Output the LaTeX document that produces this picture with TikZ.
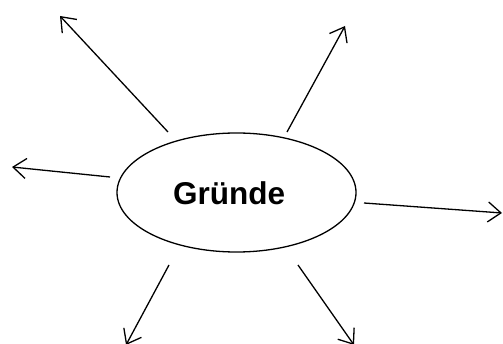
\documentclass[tikz,border=0pt]{standalone}
\usepackage{fontspec}
\setmainfont{Liberation Sans}
\usetikzlibrary{arrows.meta,shapes.geometric}
\begin{document}
\begin{tikzpicture}[x=1pt,y=-1pt,
  ray/.style={line width=1.3pt,-{Straight Barb[length=13pt,width=20pt,line width=1.3pt]}},
  hub/.style={draw,ellipse,line width=1.3pt,minimum width=239pt,minimum height=119pt,inner sep=0pt}]
\useasboundingbox (0,0) rectangle (503,344);
\node[hub] (g) at (236.5,192.5) {};
\node[font=\bfseries\fontsize{31.5}{38}\selectfont] (t) at (229,193) {Gründe};
\coordinate (s1) at (168,132); \coordinate (e1) at (60,16);
\coordinate (s2) at (287,132); \coordinate (e2) at (345,26);
\coordinate (s3) at (110,177); \coordinate (e3) at (12,167);
\coordinate (s4) at (364,203); \coordinate (e4) at (502,213);
\coordinate (s5) at (169,265); \coordinate (e5) at (126,345);
\coordinate (s6) at (298,265); \coordinate (e6) at (354,345);
\foreach \i in {1,...,6} \draw[ray] (s\i) -- (e\i);
\end{tikzpicture}
\end{document}
